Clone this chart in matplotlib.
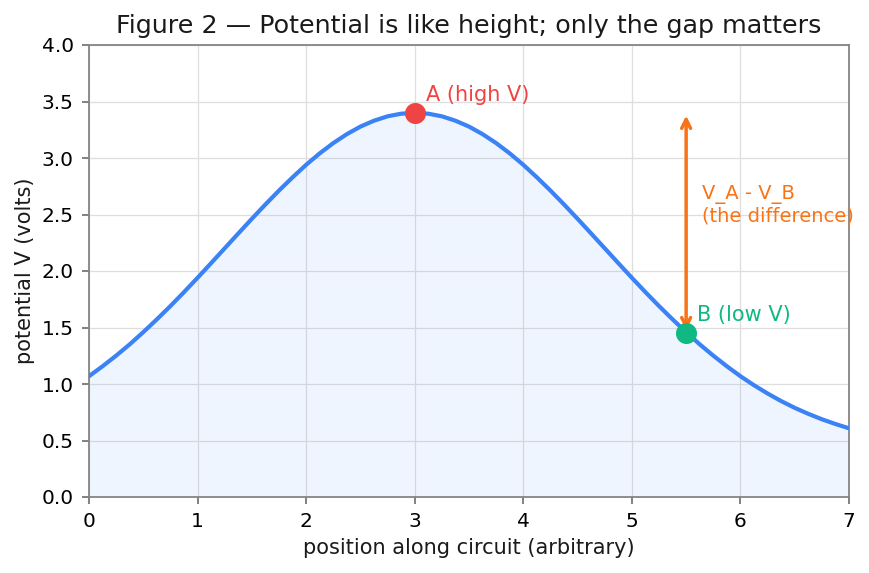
import matplotlib
matplotlib.use("Agg")
import matplotlib.pyplot as plt
import numpy as np

# potential, every 0.125 along the circuit
position = np.arange(0, 7.001, 0.125)
potential = [1.069, 1.157, 1.251, 1.351, 1.459, 1.572, 1.690, 1.813, 1.940, 2.070,
             2.201, 2.332, 2.462, 2.589, 2.712, 2.829, 2.940, 3.041, 3.132, 3.211,
             3.278, 3.330, 3.369, 3.392, 3.400,
             3.392, 3.369, 3.330, 3.278, 3.211, 3.132, 3.041, 2.940, 2.829, 2.712,
             2.589, 2.462, 2.332, 2.201, 2.070, 1.940, 1.813, 1.690, 1.572, 1.459,
             1.351, 1.251, 1.157, 1.069, 0.989, 0.916, 0.849, 0.789, 0.736, 0.688,
             0.646, 0.608]

point_A = (3.0, 3.40)
point_B = (5.5, 1.45)

blue = '#3b82f6'
red = '#ef4444'
green = '#10b981'
orange = '#f97316'

fig = plt.figure(figsize=(8.69, 5.73), dpi=100)
ax = fig.add_axes([89/869, 1 - 497/573, 760/869, 452/573])

ax.fill_between(position, potential, 0, color=blue, alpha=0.08, lw=0)
ax.plot(position, potential, color=blue, lw=3, zorder=3)

ax.scatter([point_A[0]], [point_A[1]], s=200, color=red, zorder=5)
ax.scatter([point_B[0]], [point_B[1]], s=200, color=green, zorder=5)
ax.text(3.1, 3.56, 'A (high V)', color=red, fontsize=15, va='center')
ax.text(5.6, 1.61, 'B (low V)', color=green, fontsize=15, va='center')

ax.annotate('', xy=(point_B[0], point_B[1]), xytext=(point_B[0], point_A[1]),
            arrowprops=dict(arrowstyle='<->', color=orange, lw=2.5, mutation_scale=16))
ax.text(5.65, 2.58, 'V_A - V_B\n(the difference)', color=orange, fontsize=14, va='center')

ax.set_xlim(0, 7)
ax.set_ylim(0, 4)
ax.set_xticks(range(0, 8))
ax.set_yticks(np.arange(0, 4.01, 0.5))
ax.grid(True, color='#dedede', lw=0.9)
ax.set_axisbelow(True)
for s in ax.spines.values():
    s.set_color('#858585')
    s.set_linewidth(1.3)
ax.tick_params(labelsize=14.5, color='#777777', length=5, width=1.3, pad=6)

ax.set_title('Figure 2 \u2014 Potential is like height; only the gap matters', fontsize=18.3, pad=9,
             color='#1a1a1a')
ax.set_xlabel('position along circuit (arbitrary)', fontsize=15, labelpad=5, color='#1a1a1a')
ax.set_ylabel('potential V (volts)', fontsize=15, labelpad=5, color='#1a1a1a')

fig.savefig('out.png', dpi=100)
